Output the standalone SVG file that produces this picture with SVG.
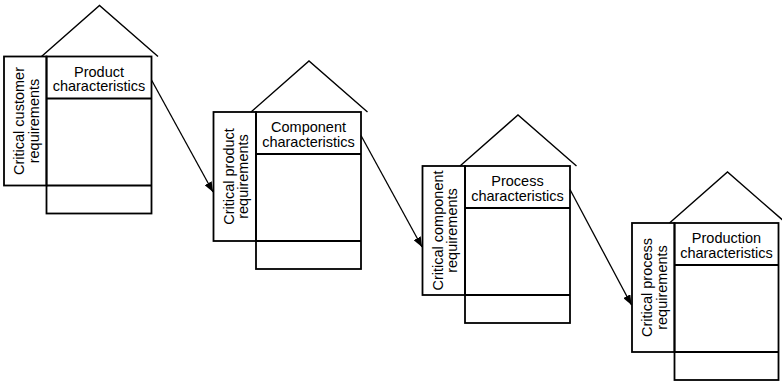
<svg xmlns="http://www.w3.org/2000/svg" width="782" height="381" viewBox="0 0 782 381">
<defs>
<style>
.box{fill:none;stroke:#000;stroke-width:1.8}
.roof{fill:none;stroke:#000;stroke-width:1.4;stroke-linejoin:miter}
.t{font-family:"Liberation Sans",Arial,sans-serif;font-size:14.5px;fill:#000;text-anchor:middle}
.conn{stroke:#000;stroke-width:1.3;fill:none}
</style>
<marker id="ah" viewBox="0 0 10 8" refX="10" refY="4" markerWidth="10" markerHeight="8" markerUnits="userSpaceOnUse" orient="auto">
<path d="M0,0 L10,4 L0,8 Z" fill="#000"/>
</marker>
</defs>
<rect width="782" height="381" fill="#fff"/>
<g id="house1" transform="translate(4,56.5)">
<polyline class="roof" points="37.5,0 95.5,-51 154,0"/>
<rect class="box" x="0" y="0" width="42.5" height="129"/>
<rect class="box" x="42.5" y="0" width="105" height="157"/>
<line class="box" x1="42.5" y1="42" x2="147.5" y2="42"/>
<line class="box" x1="42.5" y1="129" x2="147.5" y2="129"/>
<text class="t"><tspan x="95" y="20">Product</tspan><tspan x="95" y="34.5">characteristics</tspan></text>
<text class="t" transform="translate(0,64.5) rotate(-90)"><tspan x="0" y="20">Critical customer</tspan><tspan x="0" y="34.5">requirements</tspan></text>
</g>
<g id="house2" transform="translate(213.5,112)">
<polyline class="roof" points="37.5,0 95.5,-51 154,0"/>
<rect class="box" x="0" y="0" width="42.5" height="129"/>
<rect class="box" x="42.5" y="0" width="105" height="157"/>
<line class="box" x1="42.5" y1="42" x2="147.5" y2="42"/>
<line class="box" x1="42.5" y1="129" x2="147.5" y2="129"/>
<text class="t"><tspan x="95" y="20">Component</tspan><tspan x="95" y="34.5">characteristics</tspan></text>
<text class="t" transform="translate(0,64.5) rotate(-90)"><tspan x="0" y="20">Critical product</tspan><tspan x="0" y="34.5">requirements</tspan></text>
</g>
<g id="house3" transform="translate(422.5,166)">
<polyline class="roof" points="37.5,0 95.5,-51 154,0"/>
<rect class="box" x="0" y="0" width="42.5" height="129"/>
<rect class="box" x="42.5" y="0" width="105" height="157"/>
<line class="box" x1="42.5" y1="42" x2="147.5" y2="42"/>
<line class="box" x1="42.5" y1="129" x2="147.5" y2="129"/>
<text class="t"><tspan x="95" y="20">Process</tspan><tspan x="95" y="34.5">characteristics</tspan></text>
<text class="t" transform="translate(0,64.5) rotate(-90)"><tspan x="0" y="20">Critical component</tspan><tspan x="0" y="34.5">requirements</tspan></text>
</g>
<g id="house4" transform="translate(632,223)">
<polyline class="roof" points="37.5,0 95.5,-51 154,0"/>
<rect class="box" x="0" y="0" width="42.5" height="129"/>
<rect class="box" x="42.5" y="0" width="104" height="157"/>
<line class="box" x1="42.5" y1="42" x2="146.5" y2="42"/>
<line class="box" x1="42.5" y1="129" x2="146.5" y2="129"/>
<text class="t"><tspan x="94.5" y="20">Production</tspan><tspan x="94.5" y="34.5">characteristics</tspan></text>
<text class="t" transform="translate(0,64.5) rotate(-90)"><tspan x="0" y="20">Critical process</tspan><tspan x="0" y="34.5">requirements</tspan></text>
</g>
<g id="connectors">
<line class="conn" x1="151.5" y1="80" x2="213" y2="192" marker-end="url(#ah)"/>
<line class="conn" x1="361" y1="135.5" x2="422" y2="247" marker-end="url(#ah)"/>
<line class="conn" x1="570" y1="189.5" x2="631.5" y2="305" marker-end="url(#ah)"/>
</g>
</svg>
